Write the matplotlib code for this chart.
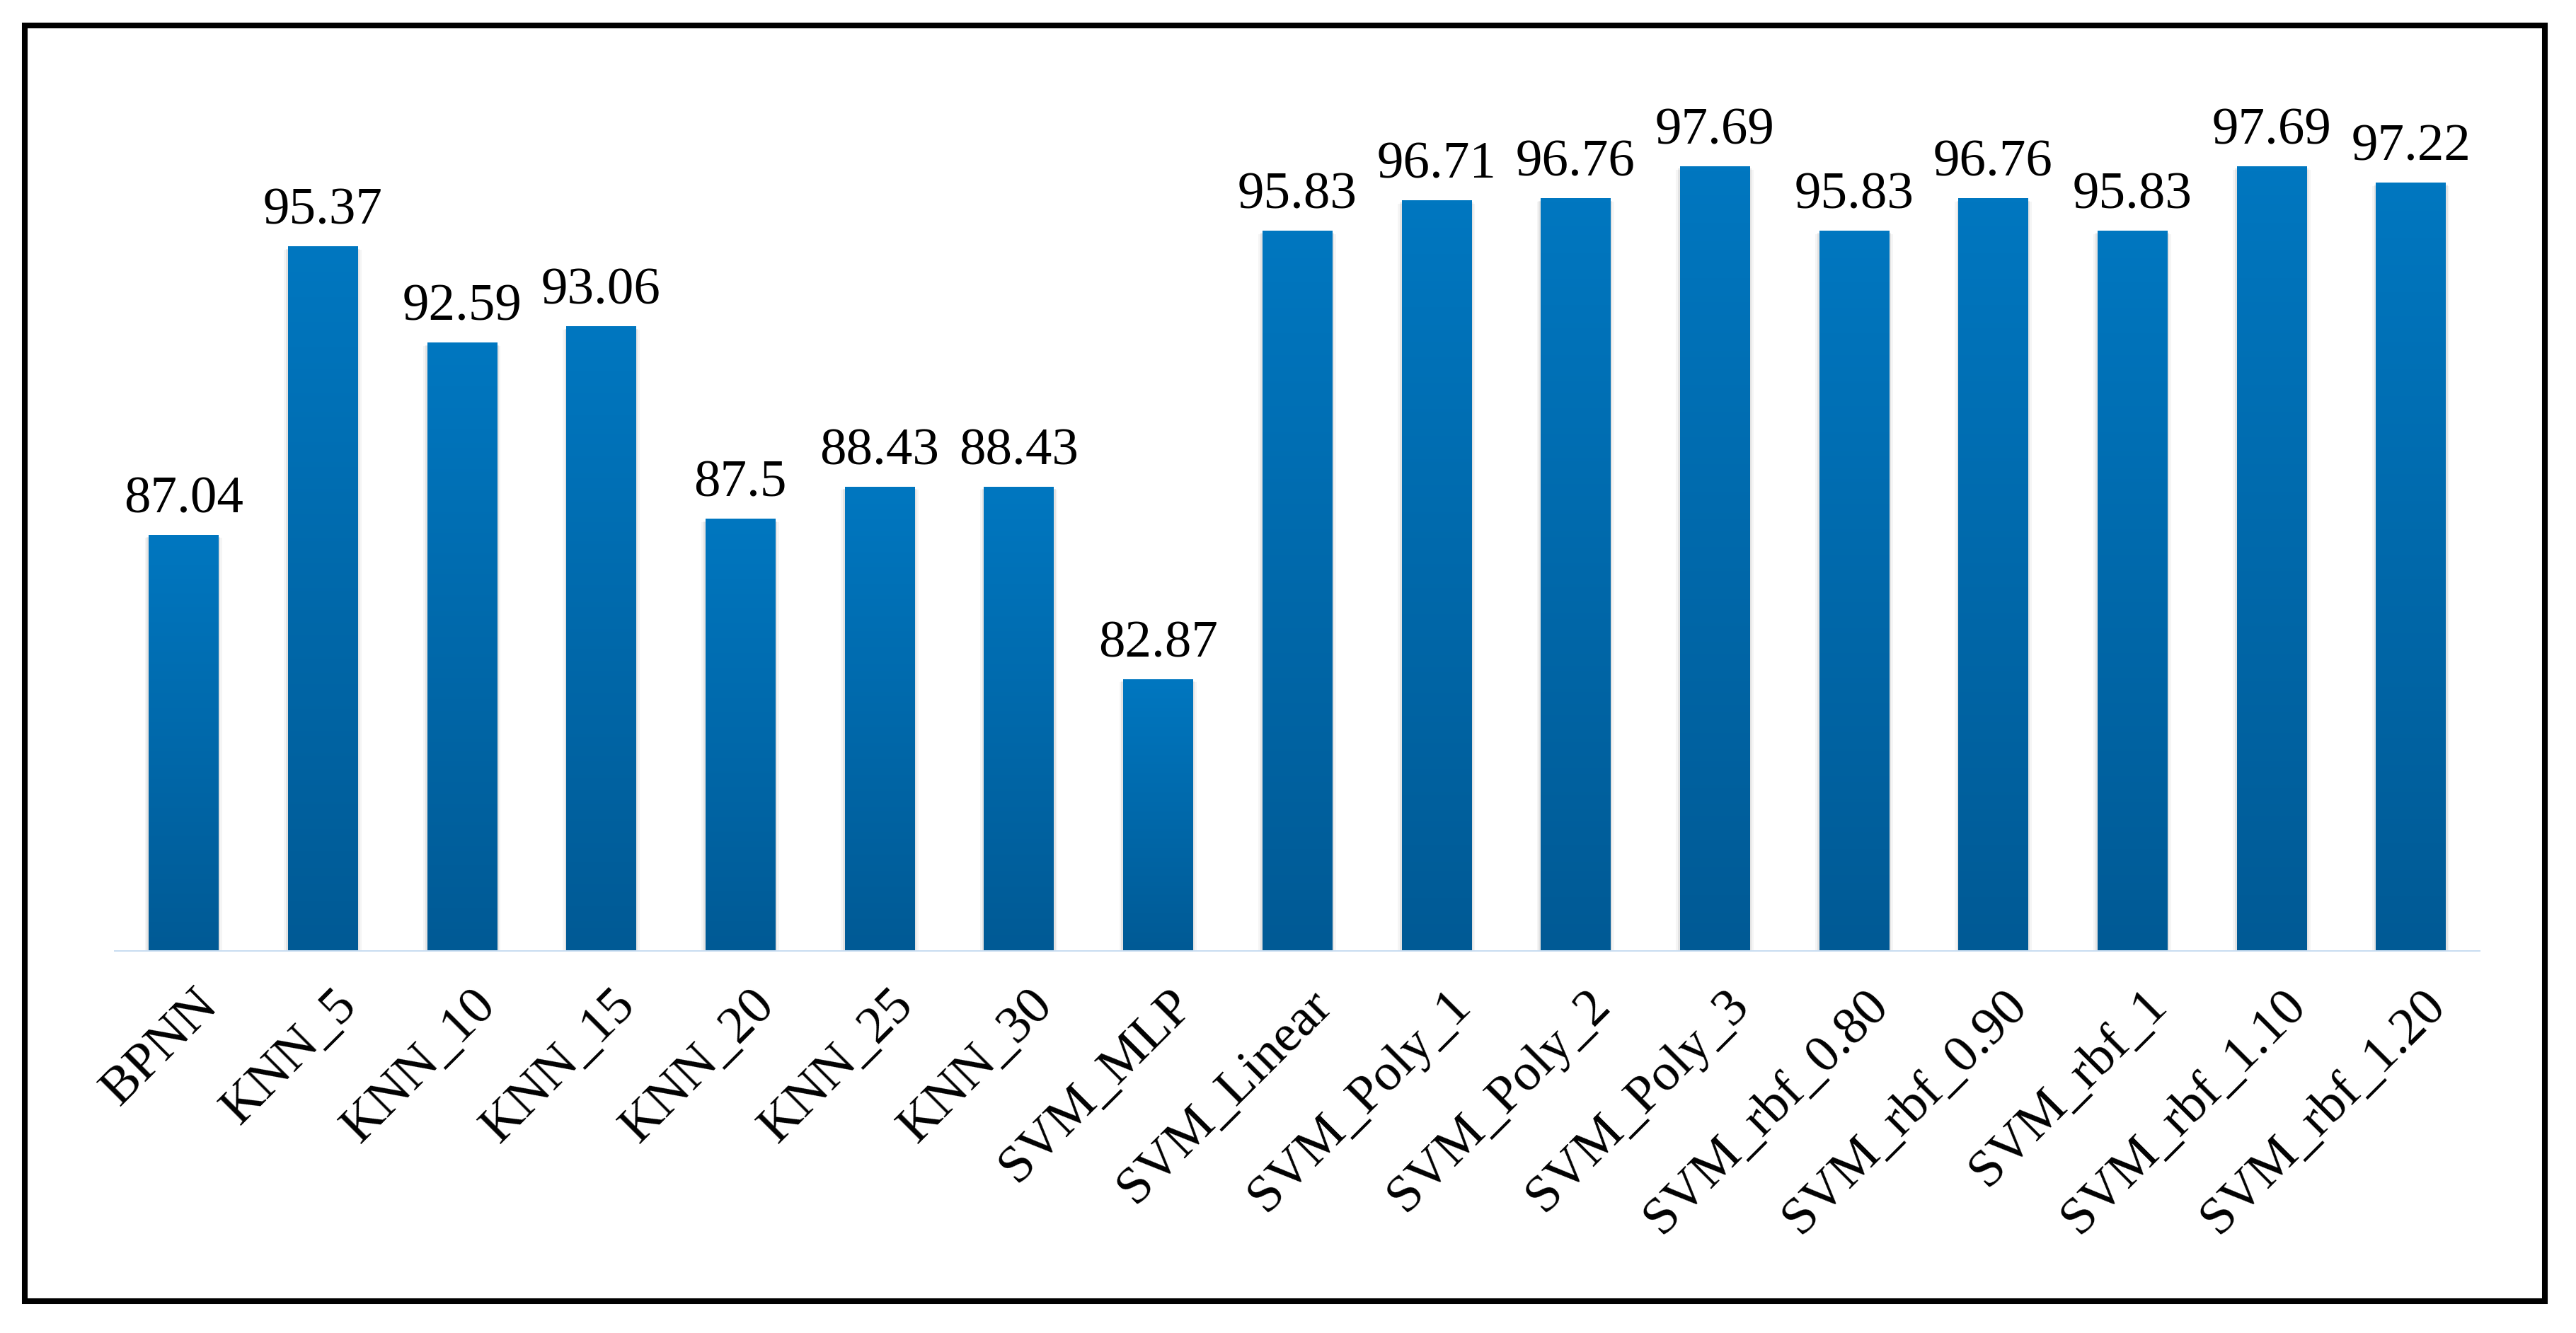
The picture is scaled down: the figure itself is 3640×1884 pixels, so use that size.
import numpy as np
import matplotlib
matplotlib.use("Agg")
import matplotlib.pyplot as plt
import matplotlib.patheffects as pe
from matplotlib.colors import LinearSegmentedColormap
from matplotlib.patches import Rectangle
from matplotlib.transforms import ScaledTranslation

#   data
models = ["BPNN", "KNN_5", "KNN_10", "KNN_15", "KNN_20", "KNN_25", "KNN_30",
          "SVM_MLP", "SVM_Linear", "SVM_Poly_1", "SVM_Poly_2", "SVM_Poly_3",
          "SVM_rbf_0.80", "SVM_rbf_0.90", "SVM_rbf_1", "SVM_rbf_1.10",
          "SVM_rbf_1.20"]
accuracy = [87.04, 95.37, 92.59, 93.06, 87.5, 88.43, 88.43, 82.87, 95.83,
            96.71, 96.76, 97.69, 95.83, 96.76, 95.83, 97.69, 97.22]

plt.rcParams["font.family"] = ["Liberation Serif", "DejaVu Serif"]

fig = plt.figure(figsize=(36.4, 18.84), dpi=100)
ax = fig.add_axes([0.04423, 0.28609, 0.91868, 0.64889])

ymin, ymax = 75, 100
x = np.arange(len(models))

#   bars: plain patch underneath (carries a soft shadow), gradient on top
shadow = [pe.SimplePatchShadow(offset=(-4, -3), shadow_rgbFace="k", alpha=0.04),
          pe.SimplePatchShadow(offset=(4, -3), shadow_rgbFace="k", alpha=0.04),
          pe.SimplePatchShadow(offset=(-2, -2), shadow_rgbFace="k", alpha=0.07),
          pe.SimplePatchShadow(offset=(2, -2), shadow_rgbFace="k", alpha=0.07),
          pe.SimplePatchShadow(offset=(0, -3), shadow_rgbFace="k", alpha=0.15),
          pe.Normal()]
bars = ax.bar(x, np.array(accuracy) - ymin, bottom=ymin, width=0.5,
              color="#005A96", edgecolor="none", zorder=2)
for b in bars:
    b.set_path_effects(shadow)

cmap = LinearSegmentedColormap.from_list("bar", ["#005A95", "#0077C0"])
grad = np.linspace(0, 1, 256).reshape(-1, 1)
for b in bars:
    x0, y0 = b.get_x(), b.get_y()
    ax.imshow(grad, extent=[x0, x0 + b.get_width(), y0, y0 + b.get_height()],
              origin="lower", aspect="auto", cmap=cmap, zorder=3,
              interpolation="bilinear")

#   value labels above each bar
for xi, v in zip(x, accuracy):
    ax.annotate(f"{v:g}", (xi, v), xytext=(0, 23), textcoords="offset points",
                ha="center", va="baseline", fontsize=54, color="black",
                zorder=5)

#   light blue category axis line
ax.axhline(ymin, color="#C8DCF0", lw=3.6, zorder=4)

ax.set_xlim(-0.5, len(models) - 0.5)
ax.set_ylim(ymin, ymax)
ax.set_yticks([])
ax.set_xticks(x)
ax.set_xticklabels(models, rotation=45, ha="right", va="top",
                   rotation_mode="anchor", fontsize=54)
ax.tick_params(axis="x", length=0, pad=30)
shift = ScaledTranslation(0.14, 0, fig.dpi_scale_trans)
for lab in ax.get_xticklabels():
    lab.set_transform(lab.get_transform() + shift)
for s in ax.spines.values():
    s.set_visible(False)
ax.set_facecolor("none")

#   black border round the whole figure
fig.add_artist(Rectangle((35 / 3640, 1 - 1839 / 1884), 3561 / 3640, 1803 / 1884,
                         transform=fig.transFigure, fill=False,
                         edgecolor="black", lw=5.8, zorder=10))

fig.savefig("out.png", dpi=100, facecolor="white")
